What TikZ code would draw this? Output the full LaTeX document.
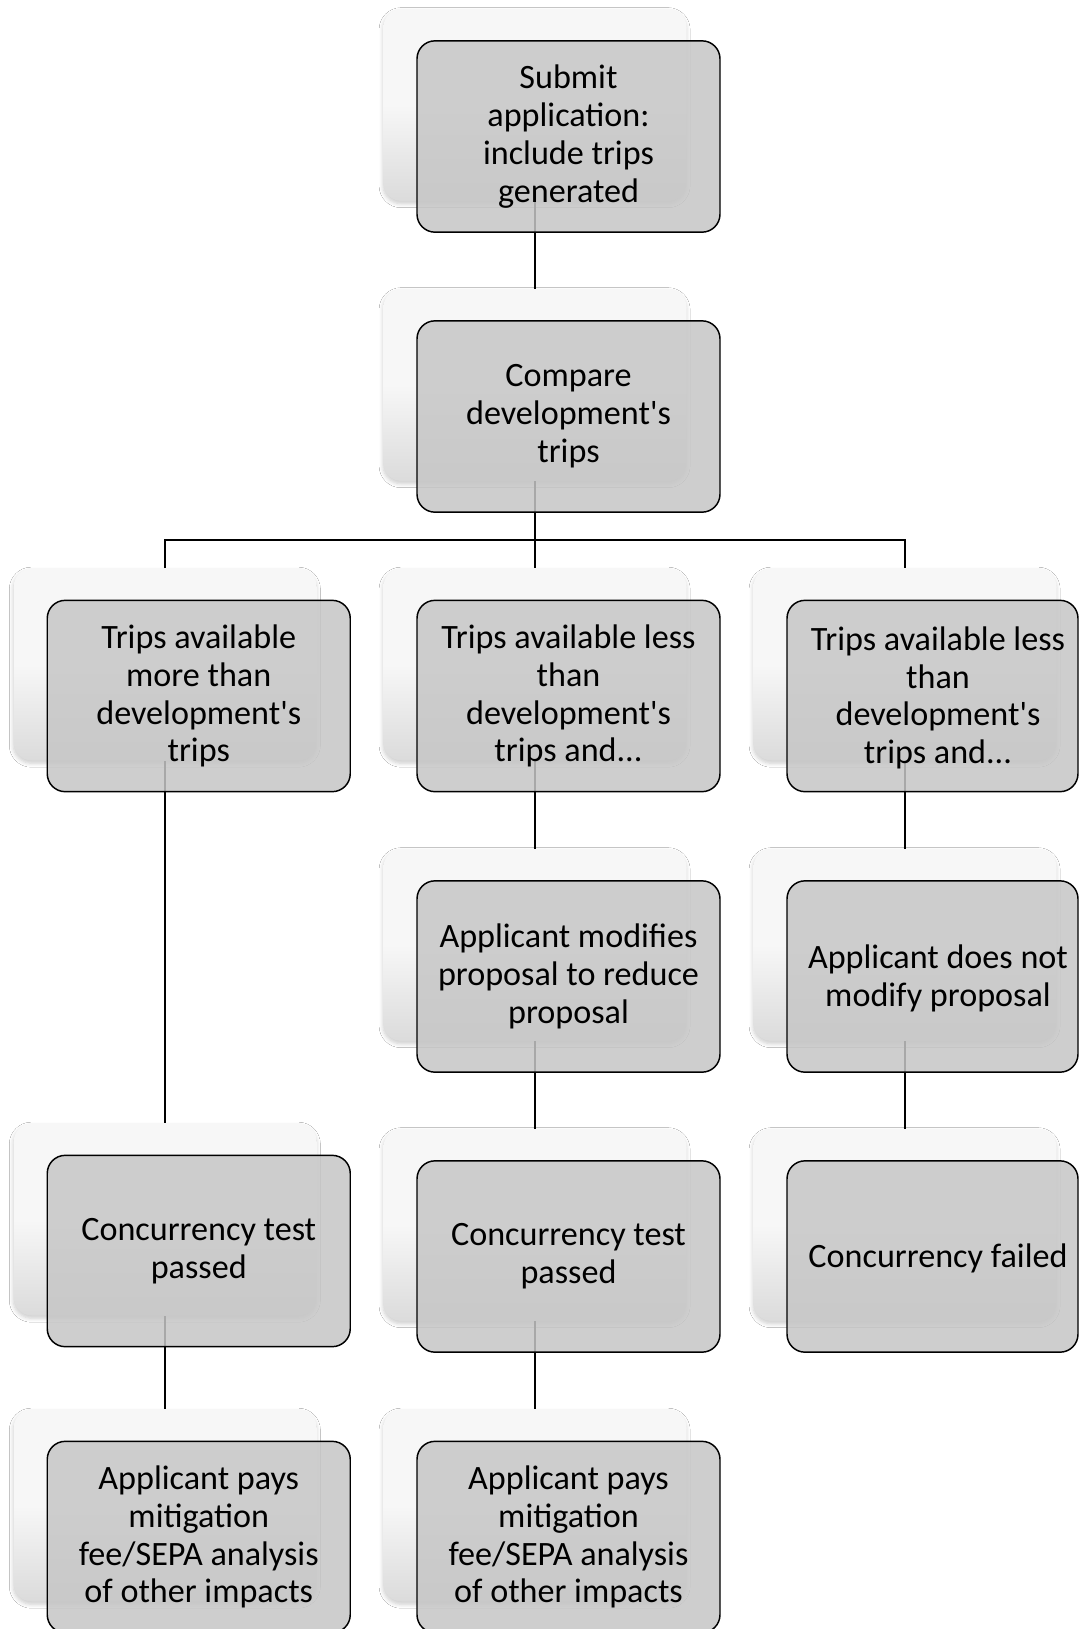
\documentclass[tikz,border=0pt]{standalone}
\usepackage{fontspec}
\setmainfont{Carlito}
\usetikzlibrary{shadows.blur}
\definecolor{frontfill}{HTML}{C6C6C6}
\definecolor{backtop}{HTML}{F7F7F7}
\definecolor{backbot}{HTML}{BABABA}
\pgfdeclareverticalshading{backshade}{100bp}{color(0bp)=(backbot); color(20bp)=(backbot!55!backtop); color(50bp)=(backtop); color(100bp)=(backtop)}
\newcommand{\rshifted}[1]{\hspace*{8.25pt}\raisebox{-2.6pt}[\height][\depth]{\begin{tabular}{@{}c@{}}#1\end{tabular}}}
\newcommand{\apos}{\textquotesingle}
\tikzset{
  backbox/.style={rectangle, rounded corners=13.5pt, minimum width=227.25pt, minimum height=144pt,
    inner sep=0pt, shading=backshade, draw=none,
    blur shadow={shadow xshift=-0.3pt, shadow yshift=-2pt, shadow opacity=20, shadow blur steps=6, shadow blur radius=3pt}},
  frontbox/.style={rectangle, rounded corners=13.5pt, minimum width=227.25pt, minimum height=143.5pt,
    inner sep=0pt, draw=black, line width=1.1pt, fill=frontfill, fill opacity=0.85, text opacity=1,
    align=center, font=\fontsize{25.6pt}{28.4pt}\selectfont, text=black},
  narrowbox/.style={frontbox, minimum width=218.25pt},
  link/.style={draw=black, line width=1.2pt}
}
\begin{document}
\begin{tikzpicture}[x=0.75pt,y=-0.75pt]
\useasboundingbox (0,0) rectangle (1080,1629);
\fill[white] (0,0) rectangle (1080,1629);
% back boxes
\node[backbox] (b1) at (535,105) {};
\node[backbox] (b2) at (535,385) {};
\node[backbox] (b3l) at (165.25,664.5) {};
\node[backbox] (b3m) at (535,664.5) {};
\node[backbox] (b3r) at (905,664.5) {};
\node[backbox] (b4m) at (535,945) {};
\node[backbox] (b4r) at (905,945) {};
\node[backbox] (b5l) at (165.25,1219.5) {};
\node[backbox] (b5m) at (535,1225) {};
\node[backbox] (b5r) at (905,1225) {};
\node[backbox] (b6l) at (165.25,1505.5) {};
\node[backbox] (b6m) at (535,1505.5) {};
% connectors
\coordinate (fork) at (535,540);
\draw[link] (b1.south) -- (b2.north);
\draw[link] (b2.south) -- (b3m.north);
\draw[link] (b3l.north) -- (b3l.north |- fork) -- (b3r.north |- fork) -- (b3r.north);
\draw[link] (b3l.south) -- (b5l.north);
\draw[link] (b5l.south) -- (b6l.north);
\draw[link] (b3m.south) -- (b4m.north);
\draw[link] (b4m.south) -- (b5m.north);
\draw[link] (b5m.south) -- (b6m.north);
\draw[link] (b3r.south) -- (b4r.north);
\draw[link] (b4r.south) -- (b5r.north);
% front boxes
\node[frontbox] (f1) at (568.5,136.5) {Submit\\application:\\include trips\\generated};
\node[frontbox] (f2) at (568.5,416.5) {Compare\\development\apos s\\trips};
\node[frontbox] (f3l) at (198.75,696) {Trips available\\more than\\development\apos s\\trips};
\node[frontbox] (f3m) at (568.5,696) {Trips available less\\than\\development\apos s\\trips and...};
\node[narrowbox] (f3r) at (932.5,696) {\rshifted{Trips available less\\than\\development\apos s\\trips and...}};
\node[frontbox] (f4m) at (568.5,976.5) {Applicant modifies\\proposal to reduce\\proposal};
\node[narrowbox] (f4r) at (932.5,976.5) {\rshifted{Applicant does not\\modify proposal}};
\node[frontbox] (f5l) at (198.75,1251) {Concurrency test\\passed};
\node[frontbox] (f5m) at (568.5,1256.5) {Concurrency test\\passed};
\node[narrowbox] (f5r) at (932.5,1256.5) {\rshifted{Concurrency failed}};
\node[frontbox] (f6l) at (198.75,1537) {Applicant pays\\mitigation\\fee/SEPA analysis\\of other impacts};
\node[frontbox] (f6m) at (568.5,1537) {Applicant pays\\mitigation\\fee/SEPA analysis\\of other impacts};
\end{tikzpicture}
\end{document}
